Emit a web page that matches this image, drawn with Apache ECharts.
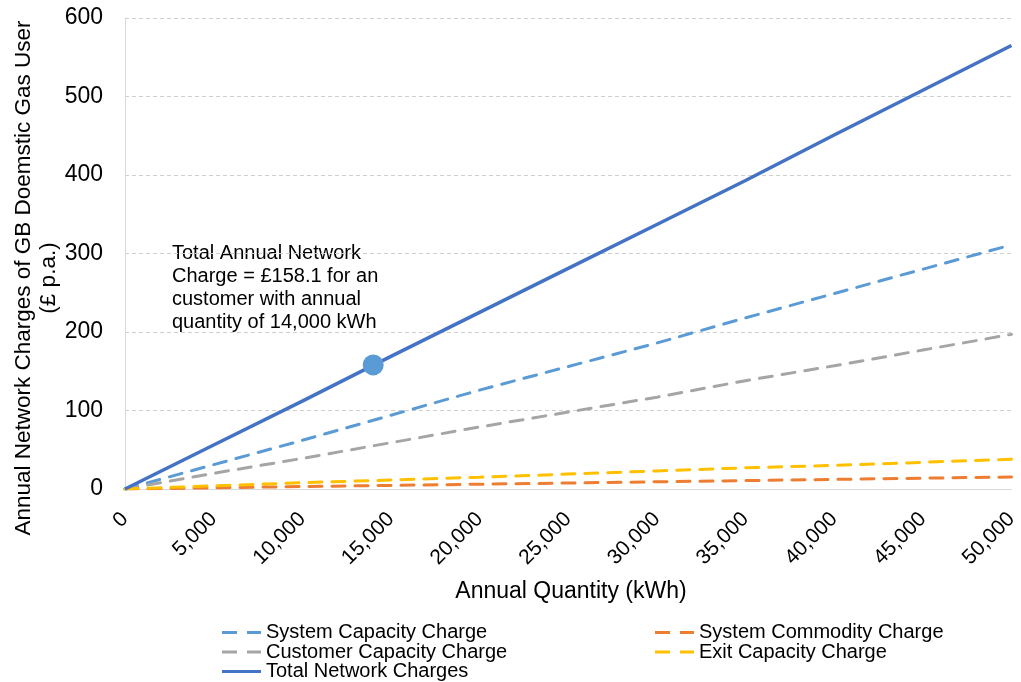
<!DOCTYPE html>
<html>
<head>
<meta charset="utf-8">
<script src="https://cdn.jsdelivr.net/npm/echarts@6/dist/echarts.min.js"></script>
<style>
  html, body { margin: 0; padding: 0; background: #ffffff; }
  #chart { width: 1021px; height: 682px; }
</style>
</head>
<body>
<div id="chart"></div>
<script>
// Annual quantity (kWh) at which each charge is read
const quantities = [0, 5000, 10000, 15000, 20000, 25000, 30000, 35000, 40000, 45000, 50000];

// Annual charges (£ p.a.) by component
const systemCapacity   = [0, 31, 62, 94, 126, 156, 186, 218, 249, 280, 311];
const systemCommodity  = [0, 1.5, 3.1, 4.6, 6.1, 7.6, 9.2, 10.7, 12.2, 13.8, 15.3];
const customerCapacity = [0, 20, 39, 59, 79, 98, 117, 138, 157, 177, 197];
const exitCapacity     = [0, 4, 8, 11.5, 15, 19, 23, 27, 30, 34, 38];
const totalCharges     = [0, 56, 112, 169, 225, 281, 337, 393, 451, 508, 565];

// Highlighted customer
const highlightQuantity = 14000;
const highlightCharge = 158.1;

const xTicks = { min: 0, max: 50000, step: 5000 };
const yTicks = { min: 0, max: 600, step: 100 };

const FONT = '"Liberation Sans", Arial, sans-serif';

// Legend keys: two short dashes for the component charges, a bar for the total
const DASH_ICON = 'path://M0,0H15V3H0Z M25,0H39V3H25Z';
const SOLID_ICON = 'path://M0,0H39V3H0Z';

function pairs(values) {
  return quantities.map((q, i) => [q, values[i]]);
}

function dashedSeries(name, values, color) {
  return {
    name: name,
    type: 'line',
    data: pairs(values),
    symbol: 'none',
    silent: true,
    lineStyle: { color: color, width: 3, type: [13, 10], cap: 'round' },
    itemStyle: { color: color }
  };
}

function legendItem(name, icon, left, top) {
  return {
    left: left,
    top: top,
    padding: 0,
    itemWidth: 39,
    itemHeight: 3,
    itemGap: 0,
    icon: icon,
    selectedMode: false,
    textStyle: { fontSize: 20, lineHeight: 20, color: '#000000', fontFamily: FONT },
    data: [name]
  };
}

const chart = echarts.init(document.getElementById('chart'), null, { renderer: 'canvas' });

chart.setOption({
  animation: false,
  backgroundColor: '#ffffff',
  textStyle: { fontFamily: FONT },
  grid: { left: 125, right: 4, top: 18, bottom: 193, containLabel: false },
  xAxis: {
    type: 'value',
    min: xTicks.min,
    max: xTicks.max,
    interval: xTicks.step,
    axisLine: { show: true, lineStyle: { color: '#d9d9d9', width: 1 } },
    axisTick: { show: false },
    splitLine: { show: false },
    axisLabel: {
      rotate: 45,
      margin: 27,
      fontSize: 21,
      color: '#000000',
      fontFamily: FONT,
      formatter: v => v.toLocaleString('en-GB')
    }
  },
  yAxis: {
    type: 'value',
    min: yTicks.min,
    max: yTicks.max,
    interval: yTicks.step,
    axisLine: { show: true, lineStyle: { color: '#d9d9d9', width: 1 } },
    axisTick: { show: false },
    splitLine: { show: true, lineStyle: { color: '#cfcfcf', width: 1, type: [4, 3] } },
    axisLabel: { margin: 22, fontSize: 23, color: '#000000', fontFamily: FONT }
  },
  legend: [
    legendItem('System Capacity Charge', DASH_ICON, 222, 622.5),
    legendItem('Customer Capacity Charge', DASH_ICON, 222, 642),
    legendItem('Total Network Charges', SOLID_ICON, 222, 661.5),
    legendItem('System Commodity Charge', DASH_ICON, 655, 622.5),
    legendItem('Exit Capacity Charge', DASH_ICON, 655, 642)
  ],
  series: [
    dashedSeries('System Capacity Charge', systemCapacity, '#5b9bd5'),
    dashedSeries('System Commodity Charge', systemCommodity, '#ed7d31'),
    dashedSeries('Customer Capacity Charge', customerCapacity, '#a5a5a5'),
    dashedSeries('Exit Capacity Charge', exitCapacity, '#ffc000'),
    {
      name: 'Total Network Charges',
      type: 'line',
      data: pairs(totalCharges),
      symbol: 'none',
      silent: true,
      lineStyle: { color: '#4472c4', width: 3.5 },
      itemStyle: { color: '#4472c4' },
      markPoint: {
        silent: true,
        symbol: 'circle',
        symbolSize: 21,
        itemStyle: { color: '#5b9bd5' },
        label: { show: false },
        data: [{ coord: [highlightQuantity, highlightCharge] }]
      }
    }
  ],
  graphic: [
    {
      type: 'text',
      x: 36,
      y: 278,
      rotation: Math.PI / 2,
      silent: true,
      style: {
        text: 'Annual Network Charges of GB Doemstic Gas User\n(£ p.a.)',
        align: 'center',
        verticalAlign: 'middle',
        fontSize: 22.5,
        lineHeight: 25,
        fontFamily: FONT,
        fill: '#000000'
      }
    },
    {
      type: 'text',
      x: 571,
      y: 592,
      silent: true,
      style: {
        text: 'Annual Quantity (kWh)',
        align: 'center',
        verticalAlign: 'middle',
        fontSize: 23,
        fontFamily: FONT,
        fill: '#000000'
      }
    },
    {
      type: 'text',
      x: 172,
      y: 241.5,
      silent: true,
      style: {
        text: 'Total Annual Network\nCharge = £158.1 for an\ncustomer with annual\nquantity of 14,000 kWh',
        align: 'left',
        verticalAlign: 'top',
        fontSize: 20,
        lineHeight: 23,
        fontFamily: FONT,
        fill: '#000000'
      }
    }
  ]
});
</script>
</body>
</html>
